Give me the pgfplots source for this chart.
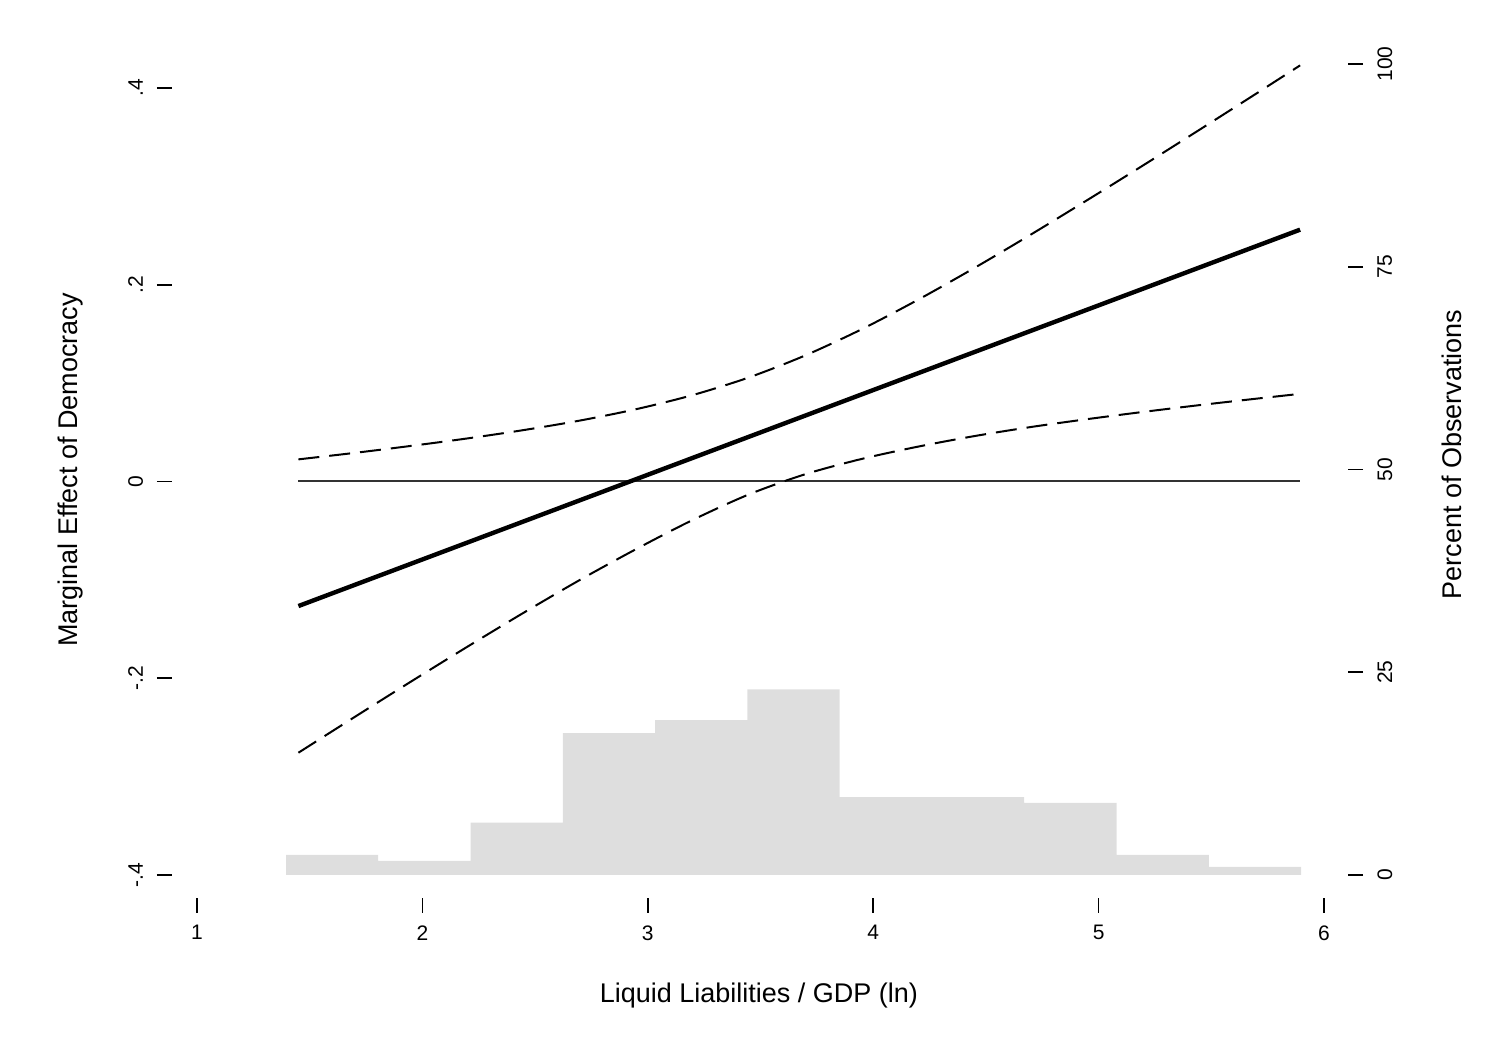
\documentclass[border=0pt]{standalone}
\usepackage{pgfplots}
\pgfplotsset{compat=1.18}
\usepackage{fontspec}
\setmainfont{Liberation Sans}
\definecolor{histgray}{RGB}{222,222,222}
\definecolor{zerogray}{RGB}{50,50,50}
\begin{document}
\begin{tikzpicture}
\useasboundingbox (0,0) rectangle (751.5bp,524bp);
\pgfplotsset{
  common/.style={
    at={(86bp,75bp)}, anchor=south west,
    scale only axis, width=588bp, height=424bp,
    xmin=0.8891, xmax=6.1065,
    axis line style={draw=none},
    tick align=outside,
    major tick length=7.5bp,
    every tick/.style={black, line width=0.8bp},
    clip=false,
    label style={font=\fontsize{13.5bp}{16bp}\selectfont},
    tick label style={font=\fontsize{10.5bp}{12bp}\selectfont, inner sep=0pt},
  }
}
% right axis: histogram (percent of observations)
\begin{axis}[common,
  ymin=-2.836, ymax=101.726,
  hide x axis,
  ytick pos=right, yticklabel pos=right,
  ytick={0,25,50,75,100}, yticklabels={0,25,50,75,100},
  yticklabel style={rotate=90, anchor=north},
  yticklabel shift=7bp,
  ylabel={Percent of Observations},
  ylabel style={at={(axis description cs:1.0969,0.5230)}, anchor=base},
]
\addplot[ybar interval, fill=histgray, draw=none] coordinates {
(1.395,2.47) (1.804,1.73) (2.214,6.45) (2.623,17.5) (3.033,19.1) (3.442,22.9)
(3.851,9.6) (4.261,9.6) (4.670,8.9) (5.080,2.47) (5.489,0.99) (5.898,0)
};
\end{axis}
% left axis: marginal effect
\begin{axis}[common,
  ymin=-0.42338, ymax=0.43863,
  ytick pos=left, xtick pos=bottom,
  ytick={-0.4,-0.2,0,0.2,0.4}, yticklabels={-.4,-.2,0,.2,.4},
  yticklabel style={rotate=90, anchor=base},
  yticklabel shift=7bp,
  xtick={1,2,3,4,5,6}, xticklabels={1,2,3,4,5,6},
  xticklabel style={anchor=north},
  xticklabel shift=6bp,
  ylabel={Marginal Effect of Democracy},
  ylabel style={at={(axis description cs:-0.0800,0.5047)}, anchor=base},
  xlabel={Liquid Liabilities / GDP (ln)},
  xlabel style={at={(axis description cs:0.4991,-0.1238)}, anchor=base},
]
\addplot[zerogray, line width=1bp] coordinates {(1.45,0) (5.894,0)};
\addplot[black, line width=1bp, dash pattern=on 10.5bp off 5bp, smooth] coordinates {
(1.45,0.0225) (1.70,0.0291) (1.95,0.0362) (2.20,0.0438) (2.45,0.0523) (2.70,0.0620)
(2.95,0.0736) (3.20,0.0879) (3.45,0.1059) (3.70,0.1283) (3.95,0.1549) (4.20,0.1849)
(4.45,0.2172) (4.70,0.2511) (4.95,0.2861) (5.20,0.3217) (5.45,0.3579) (5.70,0.3944)
(5.894,0.4230)
};
\addplot[black, line width=1bp, dash pattern=on 10.5bp off 5bp, smooth] coordinates {
(1.45,-0.2757) (1.70,-0.2393) (1.95,-0.2033) (2.20,-0.1679) (2.45,-0.1333) (2.70,-0.0999)
(2.95,-0.0685) (3.20,-0.0390) (3.45,-0.0130) (3.70,0.0075) (3.95,0.0230) (4.20,0.0355)
(4.45,0.0462) (4.70,0.0554) (4.95,0.0634) (5.20,0.0708) (5.45,0.0777) (5.70,0.0842)
(5.894,0.0891)
};
\addplot[black, line width=2.2bp] coordinates {(1.45,-0.1266) (5.894,0.2560)};
\end{axis}
\end{tikzpicture}
\end{document}
